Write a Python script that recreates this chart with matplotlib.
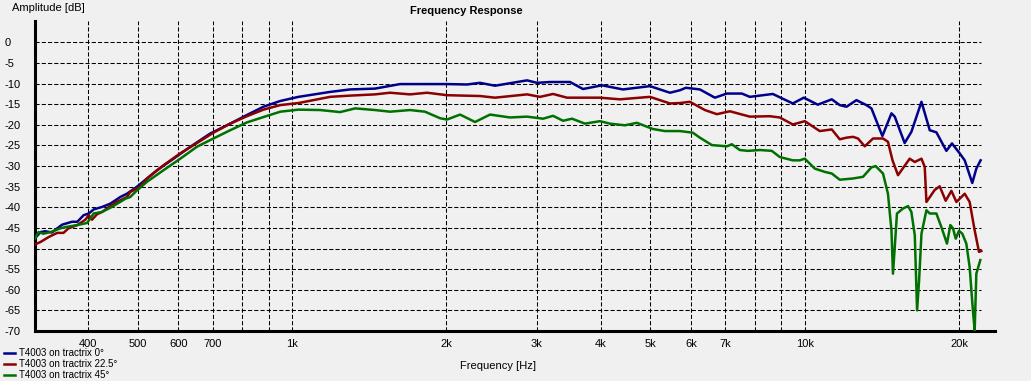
import matplotlib
matplotlib.use("Agg")
import matplotlib.pyplot as plt

# frequencies in Hz, levels in dB
f_0 = [315, 323, 330, 340, 348, 356, 372, 381, 392, 401, 410, 426, 442, 462, 476,
       498, 521, 545, 587, 633, 692, 757, 816, 879, 948, 1029, 1186, 1297, 1451,
       1624, 2005, 2194, 2325, 2487, 2872, 3004, 3184, 3484, 3692, 4021, 4418, 4988,
       5457, 5707, 5861, 6242, 6677, 7047, 7537, 7814, 8661, 9476, 9956, 10600,
       11289, 11700, 12060, 12610, 13190, 13490, 14170, 14760, 14980, 15660, 16140,
       16890, 17530, 18060, 18890, 19370, 20050, 20510, 21220, 21610, 22030]
db_0 = [-47.5, -46.0, -45.8, -46.1, -45.1, -44.2, -43.5, -43.5, -41.9, -41.5, -40.5,
        -39.9, -39.1, -37.5, -36.7, -35.0, -33.0, -31.0, -28.2, -25.3, -22.1, -19.7,
        -17.6, -15.6, -14.2, -13.2, -12.0, -11.4, -11.2, -10.1, -10.1, -10.2, -9.8,
        -10.5, -9.2, -9.8, -9.6, -9.6, -11.3, -10.4, -11.4, -10.6, -12.2, -11.6,
        -11.0, -11.4, -13.4, -12.4, -12.4, -13.2, -12.5, -14.8, -13.4, -15.1, -13.8,
        -15.2, -15.6, -14.0, -15.2, -16.0, -22.7, -17.2, -18.0, -24.4, -21.7, -14.4,
        -21.3, -21.8, -26.3, -24.5, -26.9, -28.6, -34.1, -30.6, -28.6]

f_22 = [315, 323, 335, 348, 358, 366, 381, 395, 401, 407, 416, 426, 439, 455, 476,
        483, 505, 521, 561, 605, 652, 702, 757, 816, 879, 948, 1029, 1186, 1297,
        1451, 1552, 1698, 1833, 2005, 2325, 2487, 2872, 3045, 3228, 3437, 3985, 4359,
        4988, 5457, 5707, 5968, 6384, 6738, 7142, 7814, 8546, 8938, 9476, 10000,
        10696, 11289, 11700, 12060, 12420, 12700, 13090, 13590, 14210, 14530, 14830,
        15200, 16020, 16390, 16890, 17140, 17270, 17920, 18330, 18830, 19320, 19760,
        20510, 20970, 21450, 21870, 22100]
db_22 = [-49.0, -48.4, -47.2, -46.2, -46.2, -45.1, -44.3, -43.0, -41.9, -43.0, -41.7,
         -41.1, -39.9, -38.7, -37.5, -36.3, -35.0, -33.0, -29.8, -26.9, -24.4, -21.9,
         -19.7, -17.9, -16.3, -15.2, -14.7, -13.2, -12.9, -12.6, -12.2, -12.6, -12.2,
         -12.8, -13.0, -13.4, -12.6, -13.2, -12.5, -13.4, -13.4, -13.8, -13.2, -14.8,
         -14.7, -14.4, -16.4, -17.4, -16.7, -18.0, -17.9, -18.2, -19.9, -19.1, -21.5,
         -21.1, -23.5, -23.1, -22.9, -23.3, -25.2, -23.3, -23.3, -24.1, -28.6, -32.2,
         -28.2, -29.0, -28.2, -30.2, -38.7, -35.8, -34.9, -38.4, -36.0, -38.7, -36.7,
         -38.7, -45.6, -50.8, -50.6]

f_45 = [315, 320, 327, 338, 353, 361, 381, 398, 410, 426, 445, 473, 483, 498, 521,
        561, 605, 652, 702, 757, 816, 879, 948, 1029, 1134, 1240, 1327, 1451, 1552,
        1698, 1816, 1944, 2005, 2126, 2274, 2432, 2661, 2872, 3086, 3228, 3376, 3515,
        3726, 3985, 4168, 4458, 4704, 5055, 5335, 5707, 6049, 6242, 6588, 7047, 7206,
        7469, 7744, 8172, 8623, 8938, 9476, 9779, 10000, 10459, 10939, 11289, 11700,
        12420, 12990, 13490, 13750, 14210, 14530, 14760, 14860, 14980, 15130, 15540,
        15900, 16140, 16390, 16560, 16710, 16890, 17270, 17530, 18060, 18470, 18940,
        19230, 19460, 19700, 19990, 20290, 20660, 20970, 21280, 21450, 21610, 22000]
db_45 = [-47.6, -46.0, -46.4, -46.0, -45.1, -44.8, -44.3, -43.8, -41.5, -41.1, -39.9,
         -37.9, -37.5, -35.9, -33.8, -31.0, -28.2, -25.3, -23.3, -21.3, -19.4, -18.1,
         -16.8, -16.3, -16.4, -16.9, -16.0, -16.4, -16.8, -16.4, -16.8, -18.4, -18.7,
         -17.5, -19.3, -17.5, -18.2, -18.0, -18.5, -17.8, -19.0, -18.5, -19.7, -19.1,
         -19.7, -20.1, -19.5, -21.0, -21.5, -21.5, -21.9, -23.1, -24.9, -25.2, -24.7,
         -26.1, -26.3, -26.1, -26.3, -27.8, -28.6, -28.6, -28.2, -30.6, -31.4, -31.8,
         -33.3, -33.0, -32.6, -30.3, -30.0, -31.8, -36.7, -45.6, -56.1, -49.6, -41.5,
         -40.3, -39.7, -41.1, -46.8, -65.0, -57.7, -46.4, -40.7, -41.5, -41.5, -44.8,
         -48.8, -44.3, -45.1, -47.6, -45.7, -46.4, -48.8, -54.5, -65.0, -69.9, -56.1,
         -52.8]

labels = ["T4003 on tractrix 0°", "T4003 on tractrix 22.5°", "T4003 on tractrix 45°"]
colors = ["#00008b", "#8b0000", "#007000"]

grid_freqs = [400, 500, 600, 700, 800, 900, 1000, 2000, 3000, 4000, 5000, 6000,
              7000, 8000, 9000, 10000, 20000]
grid_text = ["400", "500", "600", "700", "", "", "1k", "2k", "3k", "4k", "5k", "6k",
             "7k", "", "", "10k", "20k"]
y_ticks = list(range(0, -75, -5))

plt.rcParams["font.family"] = ["Liberation Sans", "DejaVu Sans"]

W, H = 1031, 381
fig = plt.figure(figsize=(W / 100, H / 100), dpi=100, facecolor="#f0f0f0")
ax = fig.add_axes([35 / W, 1 - 331 / H, (995 - 35) / W, (331 - 21) / H])
ax.set_facecolor("#f0f0f0")

for f, d, lab, c in zip([f_0, f_22, f_45], [db_0, db_22, db_45], labels, colors):
    ax.plot(f, d, color=c, lw=1.8, label=lab, zorder=3)

ax.set_xscale("log")
ax.set_xlim(315, 23500)
ax.set_ylim(-70, 5.2)
ax.set_xticks(grid_freqs)
ax.set_xticklabels(grid_text)
ax.xaxis.set_minor_locator(matplotlib.ticker.NullLocator())
ax.set_yticks(y_ticks)
ax.set_yticklabels([str(v) for v in y_ticks])
ax.tick_params(length=0, labelsize=8)
ax.tick_params(axis="x", pad=6)
ax.tick_params(axis="y", pad=21.6)
for t in ax.get_yticklabels():
    t.set_horizontalalignment("left")

dash = (0, (4, 2))
ax.grid(True, axis="x", color="black", lw=0.75, ls=dash)
ax.hlines(y_ticks[:-1], 315, 22100, color="black", lw=0.75, ls=dash, zorder=1)
for s in ["top", "right"]:
    ax.spines[s].set_visible(False)
for s in ["left", "bottom"]:
    ax.spines[s].set_linewidth(2.2)

fig.text(466 / W, 1 - 11 / H, "Frequency Response", ha="center", va="center",
         fontsize=8, fontweight="bold")
fig.text(12 / W, 1 - 8 / H, "Amplitude [dB]", ha="left", va="center", fontsize=8)
fig.text(498 / W, 1 - 366 / H, "Frequency [Hz]", ha="center", va="center", fontsize=8)

fig.legend(loc="upper left", bbox_to_anchor=(4 / W, 1 - 348 / H), frameon=False,
           fontsize=7, handlelength=1.1, handletextpad=0.4, labelspacing=0.12,
           borderpad=0, borderaxespad=0)

fig.savefig("out.png", dpi=100, facecolor=fig.get_facecolor())
